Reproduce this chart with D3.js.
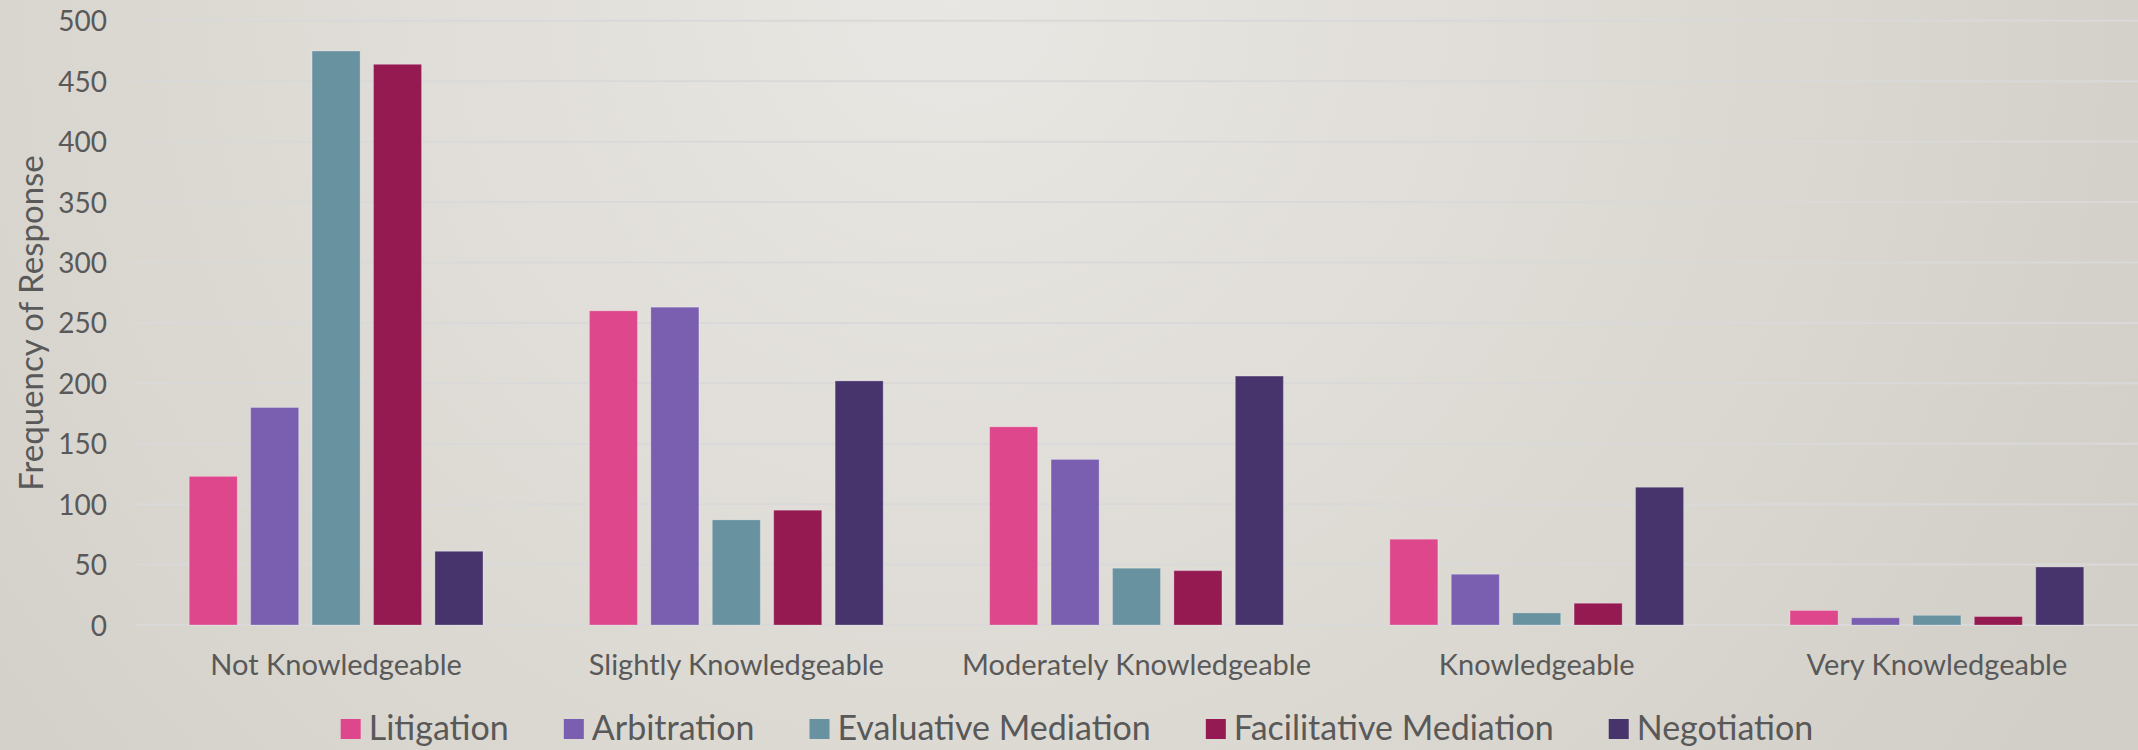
<!DOCTYPE html>
<html>
<head>
<meta charset="utf-8">
<script src="https://cdn.jsdelivr.net/npm/d3@7"></script>
<style>
  html, body { margin: 0; padding: 0; background: #dcd9d3; }
  svg { display: block; }
  text { font-family: Lato, "Open Sans", sans-serif; fill: #595959; }
</style>
</head>
<body>
<svg id="chart" width="2138" height="750"></svg>
<script>
const categories = ["Not Knowledgeable", "Slightly Knowledgeable", "Moderately Knowledgeable", "Knowledgeable", "Very Knowledgeable"];
const seriesNames = ["Litigation", "Arbitration", "Evaluative Mediation", "Facilitative Mediation", "Negotiation"];
const litigation   = [123, 260, 164, 71, 12];
const arbitration  = [180, 263, 137, 42, 6];
const evaluative   = [475, 87, 47, 10, 8];
const facilitative = [464, 95, 45, 18, 7];
const negotiation  = [61, 202, 206, 114, 48];
const seriesColors = ["#df478d", "#7a5fb0", "#6892a0", "#961a52", "#48346c"];
const yTicks = [0, 50, 100, 150, 200, 250, 300, 350, 400, 450, 500];

const seriesValues = [litigation, arbitration, evaluative, facilitative, negotiation];
const W = 2138, H = 750;
const svg = d3.select("#chart");

// background gradient
const defs = svg.append("defs");
const grad = defs.append("radialGradient").attr("id", "bg")
  .attr("gradientUnits", "userSpaceOnUse")
  .attr("cx", 950).attr("cy", 0).attr("r", 1300);
grad.append("stop").attr("offset", "0%").attr("stop-color", "#e9e7e3");
grad.append("stop").attr("offset", "60%").attr("stop-color", "#dcd9d3");
grad.append("stop").attr("offset", "100%").attr("stop-color", "#d2cfc9");
svg.append("rect").attr("width", W).attr("height", H).attr("fill", "url(#bg)");

const plotLeft = 136, plotRight = 2137;
const y = d3.scaleLinear().domain([0, 500]).range([625, 20.8]);
const x0 = d3.scaleBand().domain(categories).range([plotLeft, plotRight])
  .paddingInner(0.266).paddingOuter(0.133);
const x1 = d3.scaleBand().domain(seriesNames).range([0, x0.bandwidth()])
  .paddingInner(0.218).paddingOuter(0);

// gridlines
svg.append("g").selectAll("line").data(yTicks).join("line")
  .attr("x1", plotLeft).attr("x2", W)
  .attr("y1", d => y(d)).attr("y2", d => y(d))
  .attr("stroke", "#d9d9d9").attr("stroke-width", 2);

// y axis labels
const yAxis = d3.axisLeft(y).tickValues(yTicks).tickSize(0).tickPadding(0);
const yg = svg.append("g").attr("transform", "translate(107,0)").call(yAxis);
yg.select(".domain").remove();
yg.selectAll("text").style("font-family", "Lato, sans-serif").style("font-size", "28px")
  .attr("fill", "#595959").attr("dy", "0.36em");

// y title
svg.append("text").attr("transform", "translate(43,323) rotate(-90)")
  .attr("text-anchor", "middle").style("font-size", "33px").text("Frequency of Response");

// bars
const groups = svg.append("g").selectAll("g").data(categories).join("g")
  .attr("transform", d => `translate(${x0(d)},0)`);
groups.selectAll("rect")
  .data((c, ci) => seriesNames.map((s, si) => ({ s, si, v: seriesValues[si][ci] })))
  .join("rect")
  .attr("x", d => x1(d.s))
  .attr("width", x1.bandwidth())
  .attr("y", d => y(d.v))
  .attr("height", d => y(0) - y(d.v))
  .attr("fill", d => seriesColors[d.si])
  .attr("stroke", "rgba(255,255,255,0.25)").attr("stroke-width", 1);

// x axis labels
const xAxis = d3.axisBottom(x0).tickSize(0).tickPadding(0);
const xg = svg.append("g").attr("transform", "translate(0,675)").call(xAxis);
xg.select(".domain").remove();
xg.selectAll("text").style("font-family", "Lato, sans-serif").style("font-size", "29px")
  .attr("fill", "#595959").attr("dy", 0).attr("y", 0);

// legend
const legend = svg.append("g");
const items = legend.selectAll("g").data(seriesNames).join("g");
items.append("rect").attr("width", 20).attr("height", 20).attr("y", 719)
  .attr("fill", (d, i) => seriesColors[i]);
items.append("text").attr("y", 740).style("font-size", "34px").text(d => d);
let xpos = 0;
const widths = [];
items.each(function () { widths.push(d3.select(this).select("text").node().getComputedTextLength()); });
const total = widths.reduce((a, w) => a + 20 + 8 + w, 0) + 55 * (widths.length - 1);
xpos = 1077 - total / 2;
items.each(function (d, i) {
  const g = d3.select(this);
  g.select("rect").attr("x", xpos);
  g.select("text").attr("x", xpos + 28);
  xpos += 28 + widths[i] + 55;
});
</script>
</body>
</html>
